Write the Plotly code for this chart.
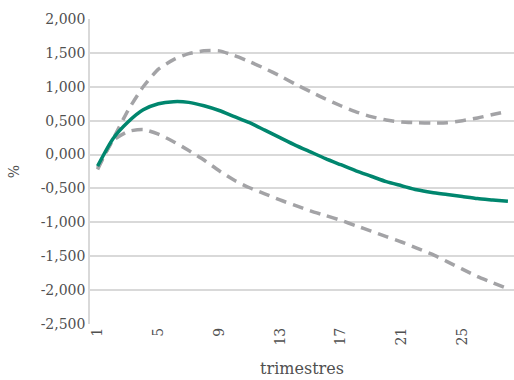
import plotly.graph_objects as go

quarters = list(range(1, 29))
central = [-0.17, 0.23, 0.48, 0.66, 0.75, 0.78, 0.77, 0.72, 0.65, 0.56, 0.47, 0.36, 0.25, 0.14,
           0.04, -0.06, -0.15, -0.24, -0.32, -0.40, -0.46, -0.52, -0.56, -0.59, -0.62, -0.65, -0.67, -0.69]
upper = [-0.20, 0.22, 0.65, 1.00, 1.26, 1.40, 1.49, 1.53, 1.53, 1.46, 1.37, 1.27, 1.16, 1.04,
         0.93, 0.82, 0.72, 0.63, 0.56, 0.51, 0.48, 0.47, 0.465, 0.47, 0.50, 0.54, 0.59, 0.64]
lower = [-0.22, 0.20, 0.34, 0.37, 0.30, 0.19, 0.06, -0.08, -0.24, -0.38, -0.49, -0.58, -0.67, -0.75,
         -0.83, -0.90, -0.97, -1.05, -1.13, -1.21, -1.29, -1.38, -1.47, -1.58, -1.69, -1.80, -1.89, -1.98]

x_ticks = [1, 5, 9, 13, 17, 21, 25]
y_ticks = [2.0, 1.5, 1.0, 0.5, 0.0, -0.5, -1.0, -1.5, -2.0, -2.5]
y_labels = ["2,000", "1,500", "1,000", "0,500", "0,000", "-0,500", "-1,000", "-1,500", "-2,000", "-2,500"]

font = "DejaVu Serif"
txt = "#505050"
grid = "#d9d9d9"
dash_col = "#a3a3a6"
green = "#00866e"

fig = go.Figure()
fig.add_trace(go.Scatter(x=quarters, y=upper, mode="lines",
                         line=dict(color=dash_col, width=3.5, dash="11px,7px", shape="spline", smoothing=0.6)))
fig.add_trace(go.Scatter(x=quarters, y=lower, mode="lines",
                         line=dict(color=dash_col, width=3.5, dash="11px,7px", shape="spline", smoothing=0.6)))
fig.add_trace(go.Scatter(x=quarters, y=central, mode="lines",
                         line=dict(color=green, width=3.5, shape="spline", smoothing=0.6)))

fig.update_layout(
    width=514, height=380,
    margin=dict(l=90, r=0, t=19, b=56),
    paper_bgcolor="white", plot_bgcolor="white",
    showlegend=False,
    font=dict(family=font, size=14, color=txt),
    xaxis=dict(range=[0.5, 28.4], tickmode="array", tickvals=x_ticks,
               ticktext=[str(v) for v in x_ticks], tickangle=-90,
               showgrid=False, zeroline=False, showline=False, ticks="",
               tickfont=dict(family=font, size=14, color=txt),
               title=dict(text="trimestres", font=dict(family=font, size=16, color=txt), standoff=18)),
    yaxis=dict(range=[-2.5, 2.0], tickmode="array", tickvals=y_ticks, ticktext=y_labels,
               showgrid=True, gridcolor=grid, gridwidth=1.5,
               zeroline=True, zerolinecolor=grid, zerolinewidth=2,
               showline=True, linecolor=grid, linewidth=1.5, ticks="",
               tickfont=dict(family=font, size=14, color=txt),
               title=dict(text="%", font=dict(family=font, size=14, color=txt), standoff=18)),
)

fig.write_html("out.html")
